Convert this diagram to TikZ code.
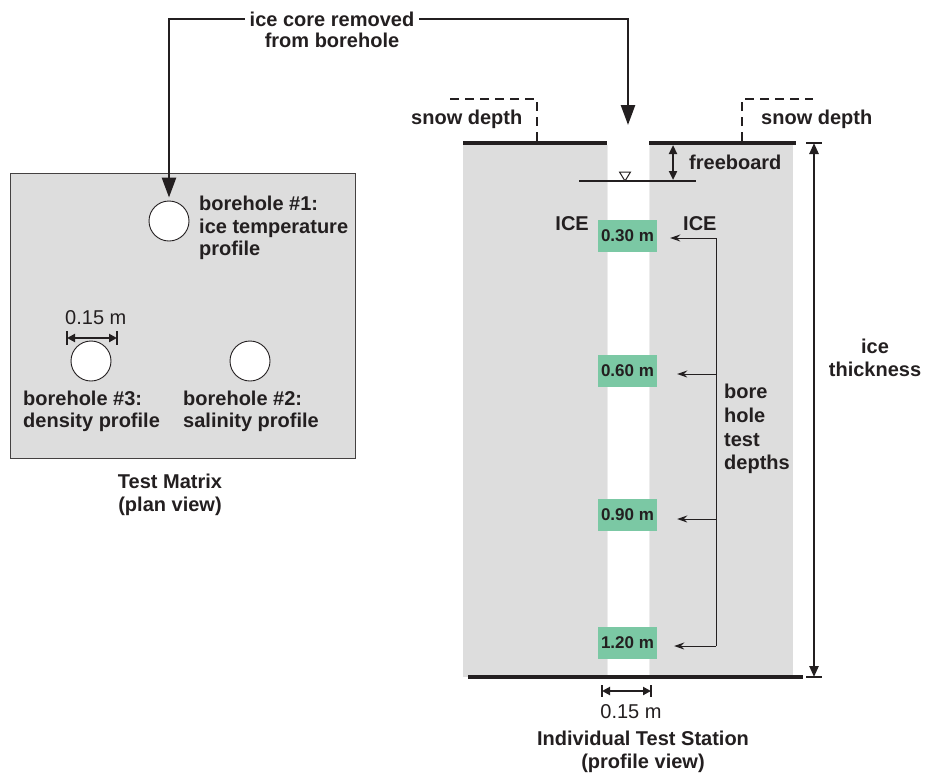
\documentclass[tikz,border=0pt]{standalone}
\usepackage{fontspec}
\setmainfont{Liberation Sans}
\usetikzlibrary{arrows.meta}
\definecolor{icegray}{HTML}{DDDDDD}
\definecolor{tagreen}{HTML}{7BC8A4}
\definecolor{ink}{HTML}{231F20}
\begin{document}
\begin{tikzpicture}[x=1pt,y=-1pt,
  every node/.style={text=ink},
  lbl/.style={font=\bfseries\fontsize{20}{22.5}\selectfont, inner sep=0pt, align=left},
  rlbl/.style={font=\fontsize{20}{22.5}\selectfont, inner sep=0pt},
  hole/.style={circle, draw=ink, line width=0.9pt, fill=white, minimum size=40pt, inner sep=0pt},
  depthbox/.style={fill=tagreen, minimum width=59pt, minimum height=32pt, inner sep=0pt,
     font=\bfseries\fontsize{17}{19}\selectfont},
  bigarrow/.style={draw=ink, line width=2.6pt, -{Triangle[length=20pt,width=14pt]}},
  sarrow/.style={draw=ink, line width=1pt, -{Stealth[length=10pt,width=7pt]}},
  dimarrow/.style={draw=ink, line width=2.4pt, {Triangle[length=8pt,width=8pt]}-{Triangle[length=8pt,width=8pt]}},
  dimbar/.style={draw=ink, line width=2.4pt},
  snowline/.style={draw=ink, line width=2pt, dash pattern=on 9pt off 6pt},
  surface/.style={draw=ink, line width=4pt}
]
\useasboundingbox (0,0) rectangle (928,780);

% ---------- plan view ----------
\node[draw=ink!85, line width=0.9pt, fill=icegray, minimum width=345pt, minimum height=285pt,
      anchor=north west, inner sep=0pt] (plan) at (10,173) {};
\node[hole] (bh1) at (169,221) {};
\node[hole] (bh3) at (91,361) {};
\node[hole] (bh2) at (250,361) {};
\node[lbl, anchor=west] (t1) at (199,228) {borehole \#1:\\ice temperature\\profile};
\node[lbl, anchor=west] (t3) at (23,411.5) {borehole \#3:\\density profile};
\node[lbl, anchor=west] (t2) at (183,411.5) {borehole \#2:\\salinity profile};
\node[rlbl, anchor=west] (d1) at (65,318) {0.15 m};
\coordinate (p1) at (67,338);
\coordinate (p2) at (117,338);
\draw[dimarrow] (p1) -- (p2);
\draw[dimbar] ([yshift=7pt]p1) -- ([yshift=-7pt]p1);
\draw[dimbar] ([yshift=7pt]p2) -- ([yshift=-7pt]p2);
\node[lbl, align=center] (tm) at (170,495) {Test Matrix\\(plan view)};

% ---------- connector ----------
\node[lbl, inner sep=5pt] (core1) at (332,19) {ice core removed};
\node[lbl] (core2) at (332,40) {from borehole};
\coordinate (holetop) at (628,125);
\draw[bigarrow, shorten >=3pt] (core1.west) -| (bh1.north);
\draw[bigarrow] (core1.east) -| (holetop);

% ---------- profile view ----------
\fill[icegray] (463,143) rectangle (607,677);
\fill[icegray] (649,143) rectangle (793,677);
\draw[gray!15, line width=0.8pt] (607,145) -- (607,676) (649,145) -- (649,676);
\draw[surface] (463,143) -- (607,143);
\draw[surface] (649,143) -- (796,143);
\draw[surface] (468,677) -- (803,677);

% snow depth
\draw[snowline] (450,99) -| (537,141);
\draw[snowline] (742,141) |- (813,99);
\node[lbl, anchor=west] (sdL) at (411,119) {snow depth};
\node[lbl, anchor=west] (sdR) at (761,119) {snow depth};

% water line & freeboard
\coordinate (wl1) at (579,181);
\coordinate (wl2) at (696,181);
\draw[draw=ink, line width=2pt] (wl1) -- (wl2);
\draw[draw=ink, line width=1pt, fill=white] (619.5,172) -- (630.5,172) -- (625,181) -- cycle;
\coordinate (fbT) at (673,145);
\coordinate (fbB) at (673,180);
\draw[draw=ink, line width=2.2pt, {Triangle[length=9pt,width=8pt]}-{Triangle[length=9pt,width=8pt]}] (fbT) -- (fbB);
\node[lbl, anchor=west] (fb) at (689,162) {freeboard};

% ICE labels
\node[lbl, anchor=east] (iceL) at (589,224) {ICE};
\node[lbl, anchor=west] (iceR) at (683,224) {ICE};

% depth boxes
\node[depthbox] (d030) at (627.5,235.5) {0.30 m};
\node[depthbox] (d060) at (627.5,370.5) {0.60 m};
\node[depthbox] (d090) at (627.5,515) {0.90 m};
\node[depthbox] (d120) at (627.5,643) {1.20 m};

\coordinate (brT) at (716,238);
\coordinate (brB) at (716,646);
\coordinate (br60) at (716,374);
\coordinate (br90) at (716,519);
\draw[draw=ink, line width=1pt] (brT) -- (brB);
\draw[sarrow] (brT) -- ([xshift=13pt,yshift=-2.5pt]d030.east);
\draw[sarrow] (br60) -- ([xshift=20pt,yshift=-3.5pt]d060.east);
\draw[sarrow] (br90) -- ([xshift=20pt,yshift=-4pt]d090.east);
\draw[sarrow] (brB) -- ([xshift=17pt,yshift=-3pt]d120.east);
\node[lbl, anchor=west, font=\bfseries\fontsize{20}{23.8}\selectfont] (bht) at (724,429) {bore\\hole\\test\\depths};

% ice thickness
\coordinate (itT) at (814,143);
\coordinate (itB) at (814,677);
\draw[draw=ink, line width=2.4pt, {Triangle[length=11pt,width=9pt]}-{Triangle[length=11pt,width=9pt]}] (itT) -- (itB);
\draw[dimbar] ([xshift=-8pt]itT) -- ([xshift=8pt]itT);
\draw[dimbar] ([xshift=-8pt]itB) -- ([xshift=8pt]itB);
\node[lbl, align=center] (ith) at (875,358) {ice\\thickness};

% bottom dimension
\coordinate (b1) at (602,691);
\coordinate (b2) at (651,691);
\draw[dimarrow] (b1) -- (b2);
\draw[dimbar] ([yshift=6pt]b1) -- ([yshift=-6pt]b1);
\draw[dimbar] ([yshift=6pt]b2) -- ([yshift=-6pt]b2);
\node[rlbl] (d2) at (631,712) {0.15 m};
\node[lbl, align=center] (its) at (643,752) {Individual Test Station\\(profile view)};
\end{tikzpicture}
\end{document}
